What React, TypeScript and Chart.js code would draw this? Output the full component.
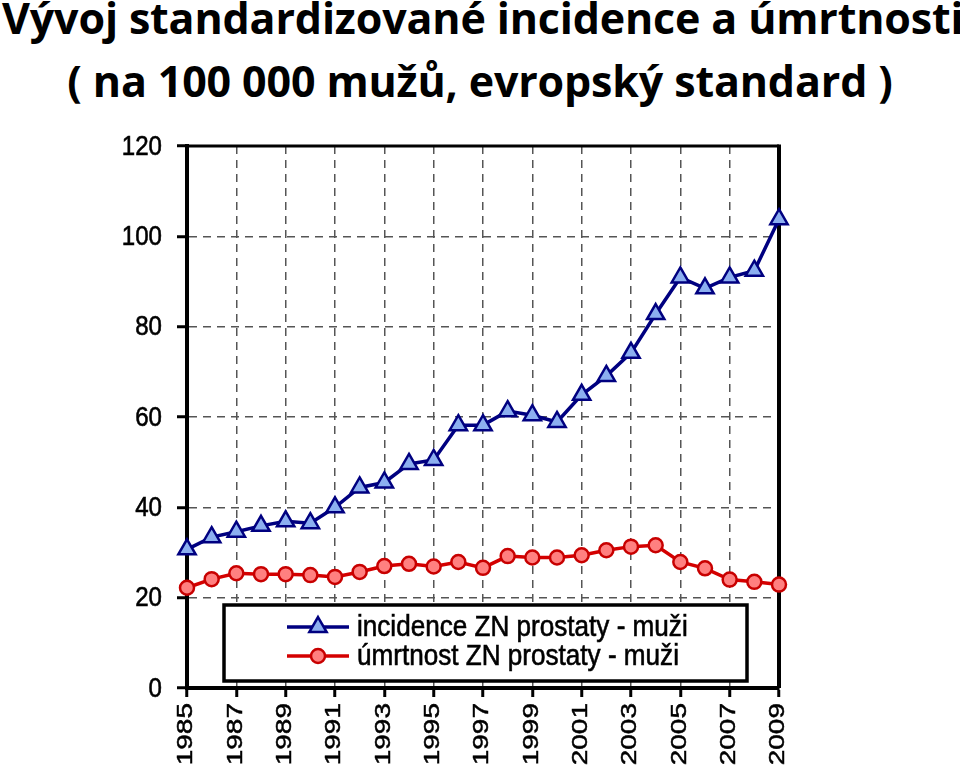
import React, { useEffect, useRef } from 'react';
import { Chart, registerables } from 'chart.js';

Chart.register(...registerables);

const titleLines = [
  'Vývoj standardizované incidence a úmrtnosti',
  '( na 100 000 mužů, evropský standard )',
];
const years = [
  1985, 1986, 1987, 1988, 1989, 1990, 1991, 1992, 1993, 1994, 1995, 1996, 1997,
  1998, 1999, 2000, 2001, 2002, 2003, 2004, 2005, 2006, 2007, 2008, 2009,
];
const incidence = [
  30.7, 33.4, 34.6, 35.9, 36.9, 36.5, 40.0, 44.4, 45.5, 49.6, 50.5, 58.2, 58.2,
  61.3, 60.4, 58.9, 64.9, 69.1, 74.2, 82.8, 90.9, 88.5, 90.9, 92.4, 103.8,
];
const mortality = [
  22.2, 24.1, 25.4, 25.2, 25.2, 25.0, 24.6, 25.7, 27.0, 27.5, 26.9, 27.9, 26.6,
  29.2, 28.9, 28.9, 29.4, 30.5, 31.3, 31.6, 27.9, 26.5, 24.0, 23.5, 22.9,
];
const seriesLabels = ['incidence ZN prostaty - muži', 'úmrtnost ZN prostaty - muži'];
const yMin = 0;
const yMax = 120;
const yStep = 20;
const xStep = 2;

const NAVY = '#000080';
const TRI_FILL = '#8caff0';
const RED_LINE = '#d40000';
const RED_BORDER = '#c80000';
const RED_FILL = '#ff8080';
const TICK_FONT = '28px "Liberation Sans", Arial, sans-serif';

function drawMarker(ctx: CanvasRenderingContext2D, style: string, x: number, y: number, r: number, fill: string, stroke: string, bw: number) {
  ctx.save();
  ctx.beginPath();
  if (style === 'triangle') {
    for (let k = 0; k < 3; k++) {
      const a = (k * 2 * Math.PI) / 3;
      const px = x + Math.sin(a) * r;
      const py = y - Math.cos(a) * r;
      if (k === 0) ctx.moveTo(px, py);
      else ctx.lineTo(px, py);
    }
    ctx.closePath();
  } else {
    ctx.arc(x, y, r, 0, Math.PI * 2);
  }
  ctx.fillStyle = fill;
  ctx.fill();
  ctx.lineWidth = bw;
  ctx.strokeStyle = stroke;
  ctx.setLineDash([]);
  ctx.stroke();
  ctx.restore();
}

function heavyText(ctx: CanvasRenderingContext2D, text: string) {
  ctx.fillText(text, 0, 0);
  ctx.lineWidth = 0.6;
  ctx.strokeStyle = '#000';
  ctx.setLineDash([]);
  ctx.strokeText(text, 0, 0);
}

const framePlugin = {
  id: 'frame',
  beforeDatasetsDraw(chart: any) {
    const { ctx, chartArea } = chart;
    ctx.save();
    ctx.setLineDash([]);
    ctx.strokeStyle = '#000';
    ctx.lineWidth = 3;
    ctx.beginPath();
    ctx.moveTo(chartArea.left, chartArea.top);
    ctx.lineTo(chartArea.right, chartArea.top);
    ctx.stroke();
    ctx.lineWidth = 4;
    ctx.beginPath();
    ctx.moveTo(chartArea.right, chartArea.top - 1.5);
    ctx.lineTo(chartArea.right, chartArea.bottom);
    ctx.stroke();
    ctx.restore();
  },
};

const tickLabelPlugin = {
  id: 'tickLabels',
  afterDraw(chart: any) {
    const { ctx } = chart;
    const xs = chart.scales.x;
    const ys = chart.scales.y;
    ctx.save();
    ctx.fillStyle = '#000';
    ctx.font = TICK_FONT;
    ys.ticks.forEach((t: any) => {
      const py = ys.getPixelForValue(t.value);
      ctx.save();
      ctx.translate(ys.right - 25, py + 1);
      ctx.scale(0.86, 1);
      ctx.textAlign = 'right';
      ctx.textBaseline = 'middle';
      heavyText(ctx, String(t.value));
      ctx.restore();
    });
    xs.ticks.forEach((t: any) => {
      const px = xs.getPixelForValue(t.value);
      ctx.save();
      ctx.translate(px - 1, xs.top + 15);
      ctx.rotate(-Math.PI / 2);
      ctx.scale(1, 0.82);
      ctx.textAlign = 'right';
      ctx.textBaseline = 'middle';
      heavyText(ctx, String(t.value));
      ctx.restore();
    });
    ctx.restore();
  },
};

const legendPlugin = {
  id: 'boxLegend',
  afterDatasetsDraw(chart: any) {
    const { ctx, chartArea } = chart;
    const left = chartArea.left + 37;
    const right = chartArea.left + 560;
    const top = chartArea.bottom - 83;
    const bottom = chartArea.bottom - 7;
    ctx.save();
    ctx.setLineDash([]);
    ctx.fillStyle = '#fff';
    ctx.fillRect(left, top, right - left, bottom - top);
    ctx.lineWidth = 3.5;
    ctx.strokeStyle = '#000';
    ctx.strokeRect(left, top, right - left, bottom - top);
    const rows = [top + 22, top + 51];
    chart.data.datasets.forEach((ds: any, i: number) => {
      const yy = rows[i];
      const x0 = left + 63;
      const x1 = left + 125;
      ctx.beginPath();
      ctx.lineWidth = ds.borderWidth;
      ctx.strokeStyle = ds.borderColor;
      ctx.moveTo(x0, yy);
      ctx.lineTo(x1, yy);
      ctx.stroke();
      drawMarker(ctx, ds.pointStyle, (x0 + x1) / 2, yy, ds.pointRadius, ds.pointBackgroundColor, ds.pointBorderColor, ds.pointBorderWidth);
      ctx.save();
      ctx.translate(left + 133, yy + 1);
      ctx.scale(0.9, 1);
      ctx.fillStyle = '#000';
      ctx.font = '29px "Liberation Sans", Arial, sans-serif';
      ctx.textBaseline = 'middle';
      ctx.textAlign = 'left';
      heavyText(ctx, ds.label);
      ctx.restore();
    });
    ctx.restore();
  },
};

export default function App() {
  const canvasRef = useRef<HTMLCanvasElement | null>(null);

  useEffect(() => {
    const canvas = canvasRef.current;
    if (!canvas) return;
    const chart = new Chart(canvas, {
      type: 'line',
      data: {
        datasets: [
          {
            label: seriesLabels[0],
            data: years.map((yr, i) => ({ x: yr, y: incidence[i] })),
            borderColor: NAVY,
            borderWidth: 3.5,
            pointStyle: 'triangle',
            pointRadius: 10,
            pointBackgroundColor: TRI_FILL,
            pointBorderColor: NAVY,
            pointBorderWidth: 2.5,
            tension: 0,
            clip: false,
          },
          {
            label: seriesLabels[1],
            data: years.map((yr, i) => ({ x: yr, y: mortality[i] })),
            borderColor: RED_LINE,
            borderWidth: 3.5,
            pointStyle: 'circle',
            pointRadius: 7,
            pointBackgroundColor: RED_FILL,
            pointBorderColor: RED_BORDER,
            pointBorderWidth: 2.5,
            tension: 0,
            clip: false,
          },
        ],
      } as any,
      options: {
        animation: false,
        responsive: true,
        maintainAspectRatio: false,
        layout: { padding: { top: 146, right: 181, left: 0, bottom: 0 } },
        plugins: {
          legend: { display: false },
          title: { display: false },
          tooltip: { enabled: false },
        },
        scales: {
          x: {
            type: 'linear',
            min: years[0],
            max: years[years.length - 1],
            afterFit: (s: any) => {
              s.height = 87;
            },
            ticks: {
              stepSize: xStep,
              autoSkip: false,
              display: false,
            },
            grid: {
              color: '#555',
              lineWidth: 1.5,
              drawTicks: true,
              tickLength: 9,
              tickColor: '#000',
              tickWidth: 3,
              tickBorderDash: [],
            },
            border: { display: true, color: '#000', width: 4, dash: [8, 6] },
          },
          y: {
            type: 'linear',
            min: yMin,
            max: yMax,
            afterFit: (s: any) => {
              s.width = 187;
            },
            ticks: {
              stepSize: yStep,
              display: false,
            },
            grid: {
              color: '#555',
              lineWidth: 1.5,
              drawTicks: true,
              tickLength: 10,
              tickColor: '#000',
              tickWidth: 3,
              tickBorderDash: [],
            },
            border: { display: true, color: '#000', width: 4, dash: [8, 6] },
          },
        },
      } as any,
      plugins: [framePlugin, legendPlugin, tickLabelPlugin],
    });
    return () => chart.destroy();
  }, []);

  const titleStyle: React.CSSProperties = {
    position: 'absolute',
    fontFamily: '"Open Sans", sans-serif',
    fontWeight: 700,
    fontSize: 43,
    lineHeight: '43px',
    letterSpacing: '-0.15px',
    whiteSpace: 'nowrap',
    color: '#000',
  };

  return (
    <div style={{ position: 'fixed', left: 0, top: 0, width: 960, height: 775, background: '#fff', overflow: 'hidden' }}>
      <div style={{ ...titleStyle, left: 2, top: -4 }}>{titleLines[0]}</div>
      <div style={{ ...titleStyle, left: 0, width: 960, top: 59, textAlign: 'center' }}>{titleLines[1]}</div>
      <div style={{ position: 'absolute', left: 0, top: 0, width: 960, height: 775 }}>
        <canvas ref={canvasRef} />
      </div>
    </div>
  );
}
